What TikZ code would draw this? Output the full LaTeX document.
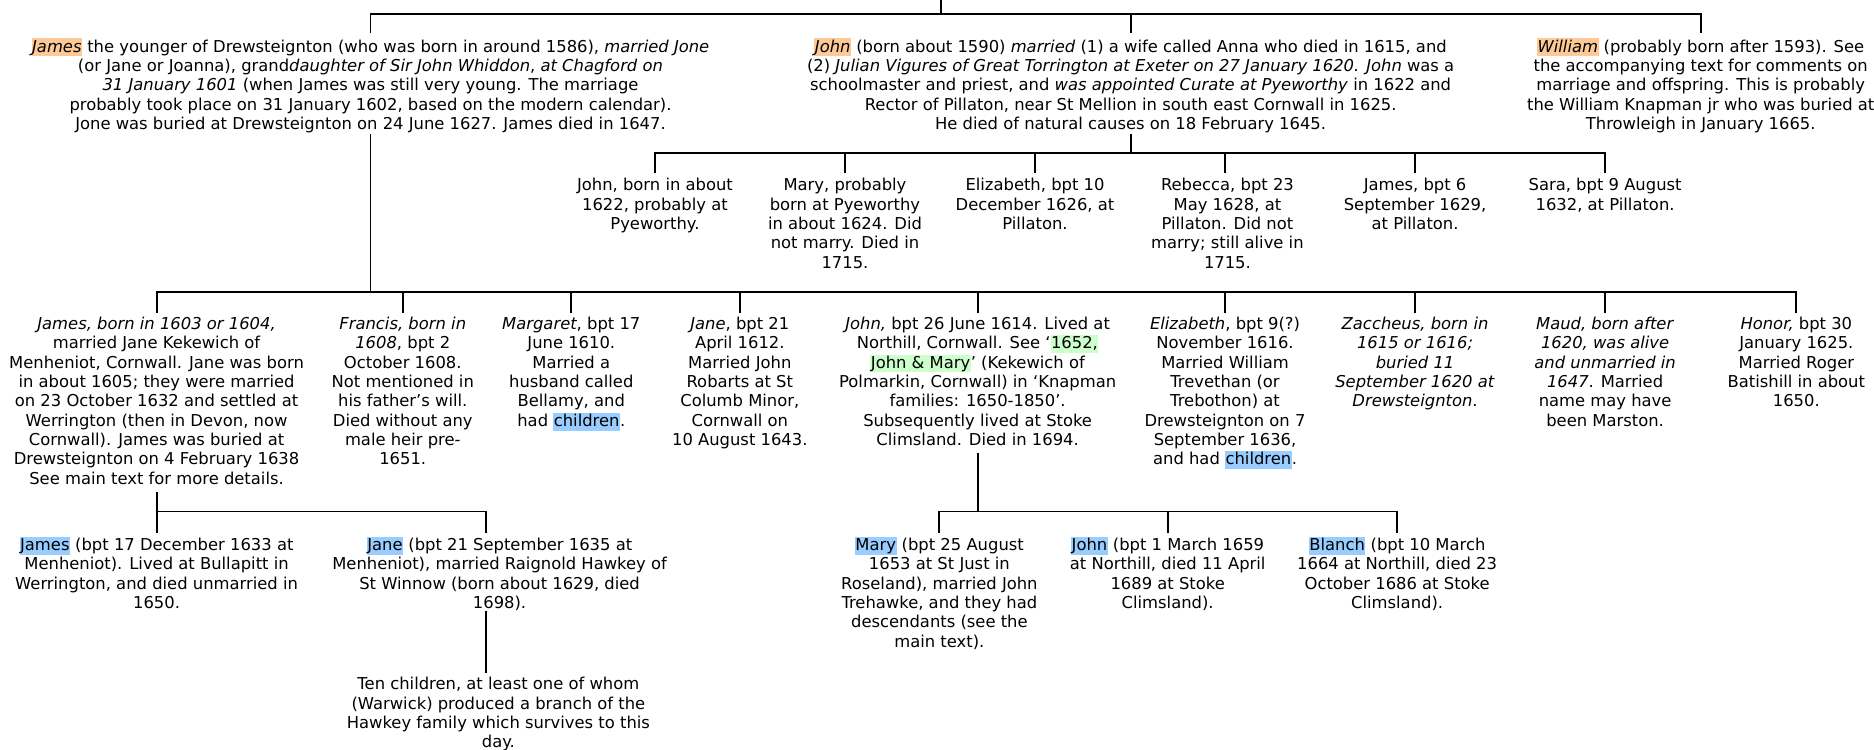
\documentclass[tikz,border=0pt]{standalone}
\usepackage{fontspec}
\setmainfont{DejaVu Sans}
\definecolor{hlorange}{RGB}{253,201,150}
\definecolor{hlblue}{RGB}{153,204,255}
\definecolor{hlgreen}{RGB}{204,255,204}
\newcommand\hlbox[2]{{\setlength{\fboxsep}{0pt}\colorbox{#1}{\kern0.4pt\rule[-3.6pt]{0pt}{15pt}#2\kern0.4pt}}}
\newcommand\hlo[1]{\hlbox{hlorange}{#1}}
\newcommand\hlb[1]{\hlbox{hlblue}{#1}}
\newcommand\hlg[1]{\hlbox{hlgreen}{#1}}
\tikzset{
  person/.style={anchor=north, align=center, inner sep=0pt, font=\fontsize{13.7}{16.2}\selectfont},
  link/.style={draw=black, line width=1.6pt}
}
\begin{document}
\begin{tikzpicture}[x=1pt,y=-1pt]
\useasboundingbox (0,0) rectangle (1568,627);
% generation 1
\node[person] (j1586) at (310,32) {\hlo{\textit{James}} the younger of Drewsteignton (who was born in around 1586), \textit{married Jone}\\
(or Jane or Joanna), grand\textit{daughter of Sir John Whiddon}, \textit{at Chagford on}\\
\textit{31 January 1601} (when James was still very young. The marriage\\
probably took place on 31 January 1602, based on the modern calendar).\\
Jone was buried at Drewsteignton on 24 June 1627. James died in 1647.};
\node[person] (j1590) at (946,32) {\hlo{\textit{John}} (born about 1590) \textit{married} (1) a wife called Anna who died in 1615, and\\
(2) \textit{Julian Vigures of Great Torrington at Exeter on 27 January 1620. John} was a\\
schoolmaster and priest, and \textit{was appointed Curate at Pyeworthy} in 1622 and\\
Rector of Pillaton, near St Mellion in south east Cornwall in 1625.\\
He died of natural causes on 18 February 1645.};
\node[person] (w1593) at (1423,32) {\hlo{\textit{William}} (probably born after 1593). See\\
the accompanying text for comments on\\
marriage and offspring. This is probably\\
the William Knapman jr who was buried at\\
Throwleigh in January 1665.};
% children of John (1590)
\node[person] (c1) at (548,149) {John, born in about\\1622, probably at\\Pyeworthy.};
\node[person] (c2) at (707,149) {Mary, probably\\born at Pyeworthy\\in about 1624. Did\\not marry. Died in\\1715.};
\node[person] (c3) at (866,149) {Elizabeth, bpt 10\\December 1626, at\\Pillaton.};
\node[person] (c4) at (1027,149) {Rebecca, bpt 23\\May 1628, at\\Pillaton. Did not\\marry; still alive in\\1715.};
\node[person] (c5) at (1184,149) {James, bpt 6\\September 1629,\\at Pillaton.};
\node[person] (c6) at (1343,149) {Sara, bpt 9 August\\1632, at Pillaton.};
% children of James (1586)
\node[person] (k1) at (131,265) {\textit{James, born in 1603 or 1604,}\\married Jane Kekewich of\\Menheniot, Cornwall. Jane was born\\in about 1605; they were married\\on 23 October 1632 and settled at\\Werrington (then in Devon, now\\Cornwall). James was buried at\\Drewsteignton on 4 February 1638\\See main text for more details.};
\node[person] (k2) at (337,265) {\textit{Francis, born in}\\\textit{1608}, bpt 2\\October 1608.\\Not mentioned in\\his father’s will.\\Died without any\\male heir pre-\\1651.};
\node[person] (k3) at (478,265) {\textit{Margaret}, bpt 17\\June 1610.\\Married a\\husband called\\Bellamy, and\\had \hlb{children}.};
\node[person] (k4) at (619,265) {\textit{Jane}, bpt 21\\April 1612.\\Married John\\Robarts at St\\Columb Minor,\\Cornwall on\\10 August 1643.};
\node[person] (k5) at (818,265) {\textit{John,} bpt 26 June 1614. Lived at\\Northill, Cornwall. See ‘\hlg{1652,}\\\hlg{John \& Mary}’ (Kekewich of\\Polmarkin, Cornwall) in ‘Knapman\\families: 1650-1850’.\\Subsequently lived at Stoke\\Climsland. Died in 1694.};
\node[person] (k6) at (1025,265) {\textit{Elizabeth}, bpt 9(?)\\November 1616.\\Married William\\Trevethan (or\\Trebothon) at\\Drewsteignton on 7\\September 1636,\\and had \hlb{children}.};
\node[person] (k7) at (1184,265) {\textit{Zaccheus, born in}\\\textit{1615 or 1616;}\\\textit{buried 11}\\\textit{September 1620 at}\\\textit{Drewsteignton}.};
\node[person] (k8) at (1343,265) {\textit{Maud, born after}\\\textit{1620, was alive}\\\textit{and unmarried in}\\\textit{1647}. Married\\name may have\\been Marston.};
\node[person] (k9) at (1503,265) {\textit{Honor,} bpt 30\\January 1625.\\Married Roger\\Batishill in about\\1650.};
% grandchildren
\node[person] (g1) at (131,449) {\hlb{James} (bpt 17 December 1633 at\\Menheniot). Lived at Bullapitt in\\Werrington, and died unmarried in\\1650.};
\node[person] (g2) at (418,449) {\hlb{Jane} (bpt 21 September 1635 at\\Menheniot), married Raignold Hawkey of\\St Winnow (born about 1629, died\\1698).};
\node[person] (ten) at (417,566.5) {Ten children, at least one of whom\\(Warwick) produced a branch of the\\Hawkey family which survives to this\\day.};
\node[person] (g3) at (786,449) {\hlb{Mary} (bpt 25 August\\1653 at St Just in\\Roseland), married John\\Trehawke, and they had\\descendants (see the\\main text).};
\node[person] (g4) at (977,449) {\hlb{John} (bpt 1 March 1659\\at Northill, died 11 April\\1689 at Stoke\\Climsland).};
\node[person] (g5) at (1169,449) {\hlb{Blanch} (bpt 10 March\\1664 at Northill, died 23\\October 1686 at Stoke\\Climsland).};
% connector coordinates
\coordinate (top) at (787,0);
\coordinate (bus1) at (787,12);
\coordinate (j1586t) at (310,28);
\coordinate (j1590t) at (946,28);
\coordinate (w1593t) at (1423,28);
\coordinate (j1590b) at (946,112);
\coordinate (bus2) at (946,128);
\coordinate (j1586b) at (310,112);
\coordinate (bus3) at (310,244);
\coordinate (k1b) at (131,412);
\coordinate (bus4) at (131,428);
\coordinate (g2t) at (407,446);
\coordinate (k5b) at (818,379);
\coordinate (bus5) at (818,428);
\coordinate (g2b) at (407,511);
\coordinate (tent) at (407,563);
% connectors
\draw[link] (top) -- (bus1);
\draw[link] (j1586t) |- (bus1) -| (w1593t);
\draw[link] (bus1 -| j1590t) -- (j1590t);
\draw[link] (j1590b) -- (bus2);
\foreach \n/\x in {c1/548,c2/707,c3/866,c4/1025,c5/1184,c6/1343}{
  \draw[link] (\x,145) |- (bus2);
}
\draw[link] (j1586b) -- (bus3);
\foreach \n/\x in {k1/131,k2/337,k3/478,k4/619,k5/818,k6/1025,k7/1184,k8/1343,k9/1503}{
  \draw[link] (\x,262) |- (bus3);
}
\draw[link] (k1b) -- (131,446);
\draw[link] (bus4) -| (g2t);
\draw[link] (k5b) -- (bus5);
\draw[link] (786,446) |- (bus5) -| (1169,446);
\draw[link] (bus5 -| g4.north) -- (977,446);
\draw[link] (g2b) -- (tent);
\end{tikzpicture}
\end{document}
